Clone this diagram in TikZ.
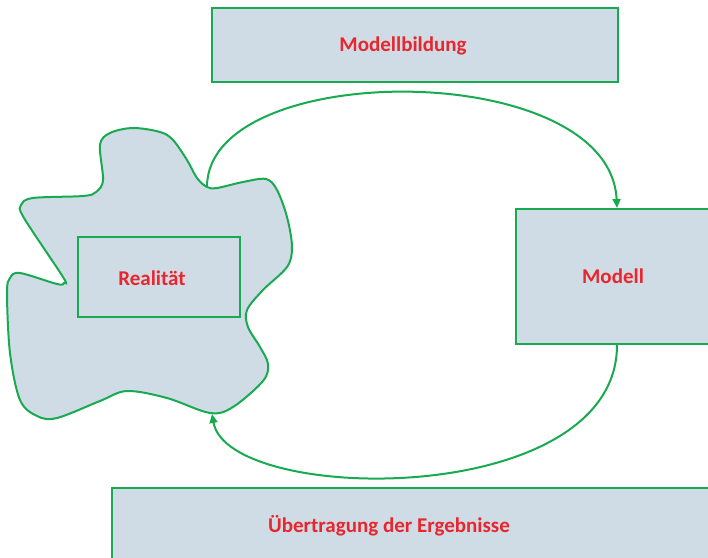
\documentclass[tikz,border=0pt]{standalone}
\usepackage{fontspec}
\setmainfont{Carlito}
\usetikzlibrary{arrows.meta}
\definecolor{lgreen}{RGB}{24,170,80}
\definecolor{lfill}{RGB}{207,220,229}
\definecolor{lred}{RGB}{232,38,46}
\tikzset{
  boxstyle/.style={draw=lgreen, line width=2.4pt, fill=lfill, inner sep=0pt},
  innerbox/.style={draw=lgreen, line width=1.3pt, fill=lfill, inner sep=0pt},
  labelstyle/.style={text=lred, font=\fontsize{21}{25}\selectfont\bfseries, inner sep=0pt},
  conn/.style={draw=lgreen, line width=2pt, -{Triangle[length=9pt,width=8pt]}}
}
\begin{document}
\begin{tikzpicture}[x=1pt,y=-1pt]
\useasboundingbox (0,0) rectangle (708,557);
% blob
\draw[lgreen, line width=2pt, fill=lfill] plot[smooth cycle, tension=0.55] coordinates {
(110,133) (100,145) (103,180) (96,192) (83,196) (33,198) (21,205) (24,218)
(63,277) (64,283) (57,284) (20,273) (10,278) (7,293) (10,353) (20,400)
(37,416) (57,418) (100,401) (127,391) (167,398) (210,413) (233,407)
(263,381) (268,364) (260,347) (248,327) (247,310) (263,290) (287,267)
(292,247) (287,217) (277,190) (266,179) (243,182) (217,188) (207,187)
(197,178) (187,160) (173,140) (160,132) (133,128)};
\coordinate (blobtop) at (207,186);
\coordinate (blobbottom) at (212,414);
% boxes
\node[boxstyle, minimum width=406pt, minimum height=74pt] (mb) at (415,45) {};
\node[labelstyle] (mbl) at (403,46) {Modellbildung};
\node[boxstyle, minimum width=194pt, minimum height=135pt, labelstyle] (modell) at (613,276.5) {Modell};
\node[boxstyle, minimum width=620pt, minimum height=76pt] (ue) at (422,526) {};
\node[labelstyle] (uel) at (389,526) {Übertragung der Ergebnisse};
\node[innerbox, minimum width=162pt, minimum height=80pt] (real) at (159,277) {};
\node[labelstyle] (reall) at (152,278) {Realität};
% connectors
\coordinate (modtop) at (617,208);
\coordinate (modbot) at (617,345);
\draw[conn] (blobtop) .. controls (209,58) and (610,58) .. (modtop);
\draw[conn] (modbot) .. controls (617,510) and (228,505) .. (blobbottom);
\end{tikzpicture}
\end{document}
